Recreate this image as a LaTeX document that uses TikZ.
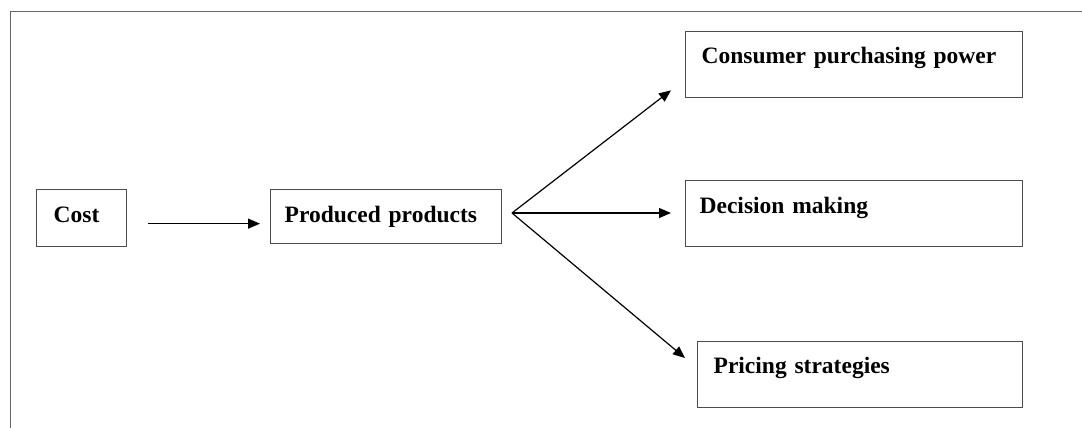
\documentclass[tikz,border=0pt]{standalone}
\usepackage{fontspec}
\setmainfont{Liberation Serif}
\usetikzlibrary{arrows.meta}
\tikzset{
  box/.style={draw=black!70, line width=1.3pt, inner ysep=0pt, anchor=north west, align=left,
              font=\fontsize{23.5pt}{26pt}\selectfont\bfseries},
  arr/.style={draw=black, line width=1.2pt, -{Triangle[length=12pt,width=10pt]}},
  frame/.style={draw=black!60, line width=1pt}
}
\begin{document}
\begin{tikzpicture}[x=1pt,y=1pt]
\useasboundingbox (0,0) rectangle (1082,428);
\draw[frame] (10,0) -- (10,416) -- (1082,416);
\node[box, inner xsep=17pt, text width=56pt, text height=33pt, text depth=24pt] (cost) at (36,239) {Cost};
\node[box, inner xsep=14pt, text width=203pt, text height=33pt, text depth=21pt] (prod) at (270,239) {Produced products};
\node[box, inner xsep=16pt, text width=305pt, text height=32pt, text depth=34pt] (cons) at (685,397) {Consumer purchasing power};
\node[box, inner xsep=14pt, text width=309pt, text height=33pt, text depth=33pt] (dec) at (685,248) {Decision making};
\node[box, inner xsep=16pt, text width=293pt, text height=32pt, text depth=34pt] (price) at (697,87) {Pricing strategies};
\coordinate (fan) at (512,215);
\draw[arr, shorten <=21pt, shorten >=10pt] ([yshift=-5.5pt]cost.east) -- ([yshift=-5.5pt]cost.east -| prod.west);
\draw[arr] (fan) -- ([xshift=-14pt,yshift=8pt]cons.south west);
\draw[arr, shorten >=14pt] (fan) -- (fan -| dec.west);
\draw[arr] (fan) -- ([xshift=-12pt,yshift=-17pt]price.north west);
\end{tikzpicture}
\end{document}
